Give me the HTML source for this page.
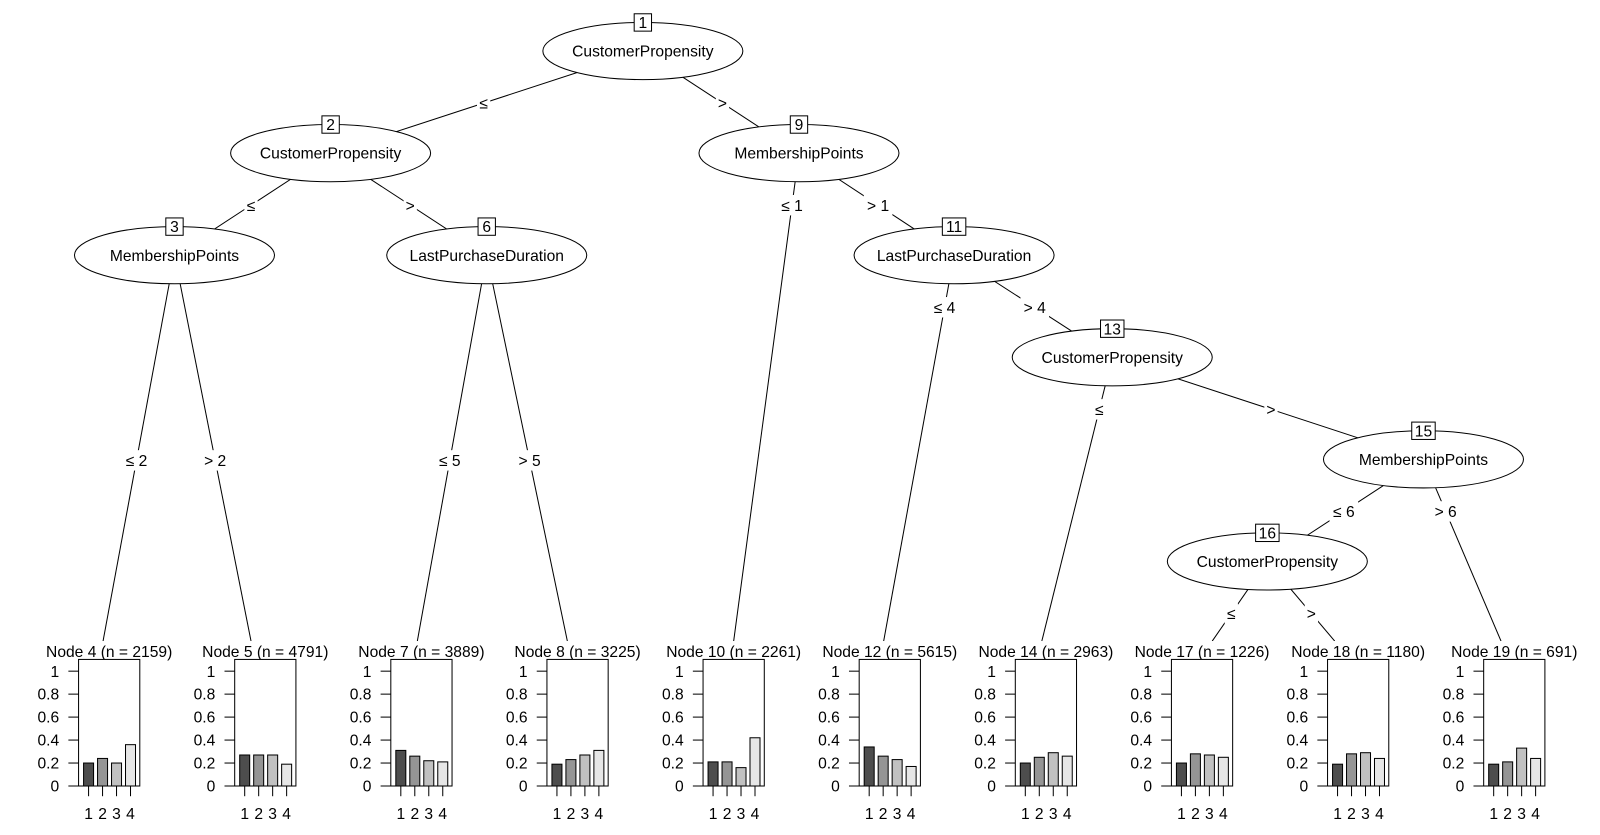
<!DOCTYPE html>
<html><head><meta charset="utf-8">
<style>
html,body{margin:0;padding:0;background:#fff;}
svg{display:block;}
text{font-family:"Liberation Sans",Arial,sans-serif;fill:#000;}
</style></head>
<body>
<svg id="chart" width="1600" height="835" viewBox="0 0 1568 818" preserveAspectRatio="none" xmlns="http://www.w3.org/2000/svg"></svg>
<script>
// ---- data ----
const innerIds = [1, 2, 9, 3, 6, 11, 13, 15, 16];
const innerVars = ["CustomerPropensity","CustomerPropensity","MembershipPoints","MembershipPoints","LastPurchaseDuration","LastPurchaseDuration","CustomerPropensity","MembershipPoints","CustomerPropensity"];
const innerX = [630, 324, 783, 171, 477, 935, 1090, 1395, 1242];
const innerLevel = [0, 1, 1, 2, 2, 2, 3, 4, 5];

const termIds = [4, 5, 7, 8, 10, 12, 14, 17, 18, 19];
const termN = [2159, 4791, 3889, 3225, 2261, 5615, 2963, 1226, 1180, 691];
const class1 = [0.20, 0.27, 0.31, 0.19, 0.21, 0.34, 0.20, 0.20, 0.19, 0.19];
const class2 = [0.24, 0.27, 0.26, 0.23, 0.21, 0.26, 0.25, 0.28, 0.28, 0.21];
const class3 = [0.20, 0.27, 0.22, 0.27, 0.16, 0.23, 0.29, 0.27, 0.29, 0.33];
const class4 = [0.36, 0.19, 0.21, 0.31, 0.42, 0.17, 0.26, 0.25, 0.24, 0.24];
const classLabels = ["1","2","3","4"];
const yTicks = [0, 0.2, 0.4, 0.6, 0.8, 1];
const yTickLabels = ["0","0.2","0.4","0.6","0.8","1"];
const termEndX = [101, 246, 409, 556, 719, 866, 1021, 1188, 1308, 1471];

// edges
const edgeParent = [1,1,2,2,9,9,3,3,6,6,11,11,13,13,15,15,16,16];
const edgeChild  = [2,9,3,6,10,11,4,5,7,8,12,13,14,15,16,19,17,18];
const edgeLabel  = ["≤",">","≤",">","≤ 1","> 1","≤ 2","> 2","≤ 5","> 5","≤ 4","> 4","≤",">","≤ 6","> 6","≤",">"];
const edgeLabelY = [101,101,201,201,201,201,451,451,451,451,301,301,401,401,501,501,601,601];

const NS = "http://www.w3.org/2000/svg";
const svg = document.getElementById("chart");
const FS = 15.3;
const rowY = l => 50 + l * 100;
const termTop = 628;
const frameTop = 646, base = 770, unit = 112.5;
const yScale = v => base - v * unit;
const frameLeft = i => 77 + i * 153;
function mk(tag, attrs, parent) {
  const e = document.createElementNS(NS, tag);
  for (const k in attrs) e.setAttribute(k, attrs[k]);
  (parent || svg).appendChild(e);
  return e;
}
function nodePos(id) {
  const k = innerIds.indexOf(id);
  if (k >= 0) return [innerX[k], rowY(innerLevel[k])];
  const t = termIds.indexOf(id);
  return [termEndX[t], termTop];
}

// ---- edges ----
const gEdges = mk("g", {});


for (let i = 0; i < edgeParent.length; i++) {
  const [x1, y1] = nodePos(edgeParent[i]);
  const [x2, y2] = nodePos(edgeChild[i]);
  const ln = mk("line", {x1, y1, x2, y2, stroke: "#000", "stroke-width": 1}, gEdges);
  
  
  const ly = edgeLabelY[i];
  const lx = x1 + (x2 - x1) * (ly - y1) / (y2 - y1);
  const w = edgeLabel[i].length > 1 ? 28 : 13;
  mk("rect", {x: lx - w/2, y: ly - 10, width: w, height: 20, fill: "#fff"}, gEdges);
  const t = mk("text", {x: lx, y: ly + 5.5, "font-size": FS, "text-anchor": "middle"}, gEdges);
  t.textContent = edgeLabel[i];
  
  
}

// ---- inner nodes ----
for (let k = 0; k < innerIds.length; k++) {
  const cx = innerX[k], cy = rowY(innerLevel[k]);
  const g = mk("g", {});
  
  
  mk("ellipse", {cx, cy, rx: 98, ry: 28, fill: "#fff", stroke: "#000", "stroke-width": 1}, g);
  const t = mk("text", {x: cx, y: cy + 5.5, "font-size": FS, "text-anchor": "middle"}, g);
  t.textContent = innerVars[k];
  
  
  const bw = innerIds[k] >= 10 ? 23 : 17;
  mk("rect", {x: cx - bw/2, y: cy - 28 - 8.5, width: bw, height: 17, fill: "#fff", stroke: "#000", "stroke-width": 1}, g);
  const nt = mk("text", {x: cx, y: cy - 28 + 5.5, "font-size": FS, "text-anchor": "middle"}, g);
  nt.textContent = innerIds[k];
  
  
}

// ---- terminal nodes ----
const fills = ["#4D4D4D", "#959595", "#C1C1C1", "#E6E6E6"];
const series = [class1, class2, class3, class4];
for (let i = 0; i < termIds.length; i++) {
  const L = frameLeft(i), W = 60;
  const g = mk("g", {});
  
  
  mk("rect", {x: L - 40, y: termTop, width: W + 80, height: 16, fill: "#fff"}, g);
  const tt = mk("text", {x: L + W/2, y: 643.5, "font-size": FS, "text-anchor": "middle"}, g);
  tt.textContent = "Node " + termIds[i] + " (n = " + termN[i] + ")";
  
  
  mk("rect", {x: L, y: frameTop, width: W, height: base - frameTop, fill: "#fff", stroke: "#000", "stroke-width": 1}, g);
  for (let j = 0; j < yTicks.length; j++) {
    const y = yScale(yTicks[j]);
    mk("line", {x1: L - 10, y1: y, x2: L, y2: y, stroke: "#000"}, g);
    const yl = mk("text", {x: L - 19, y: y + 5.5, "font-size": FS, "text-anchor": "end"}, g);
    yl.textContent = yTickLabels[j];
    
    
  }
  for (let c = 0; c < 4; c++) {
    const bc = L + 9.8 + c * 13.7;
    const v = series[c][i];
    const b = mk("rect", {x: bc - 4.9, y: yScale(v), width: 9.8, height: v * unit, fill: fills[c], stroke: "#000", "stroke-width": 1}, g);
    
    
    mk("line", {x1: bc, y1: base, x2: bc, y2: base + 10, stroke: "#000"}, g);
    const xl = mk("text", {x: bc, y: 802.5, "font-size": FS, "text-anchor": "middle"}, g);
    xl.textContent = classLabels[c];
    
    
  }
}
</script>
</body></html>
